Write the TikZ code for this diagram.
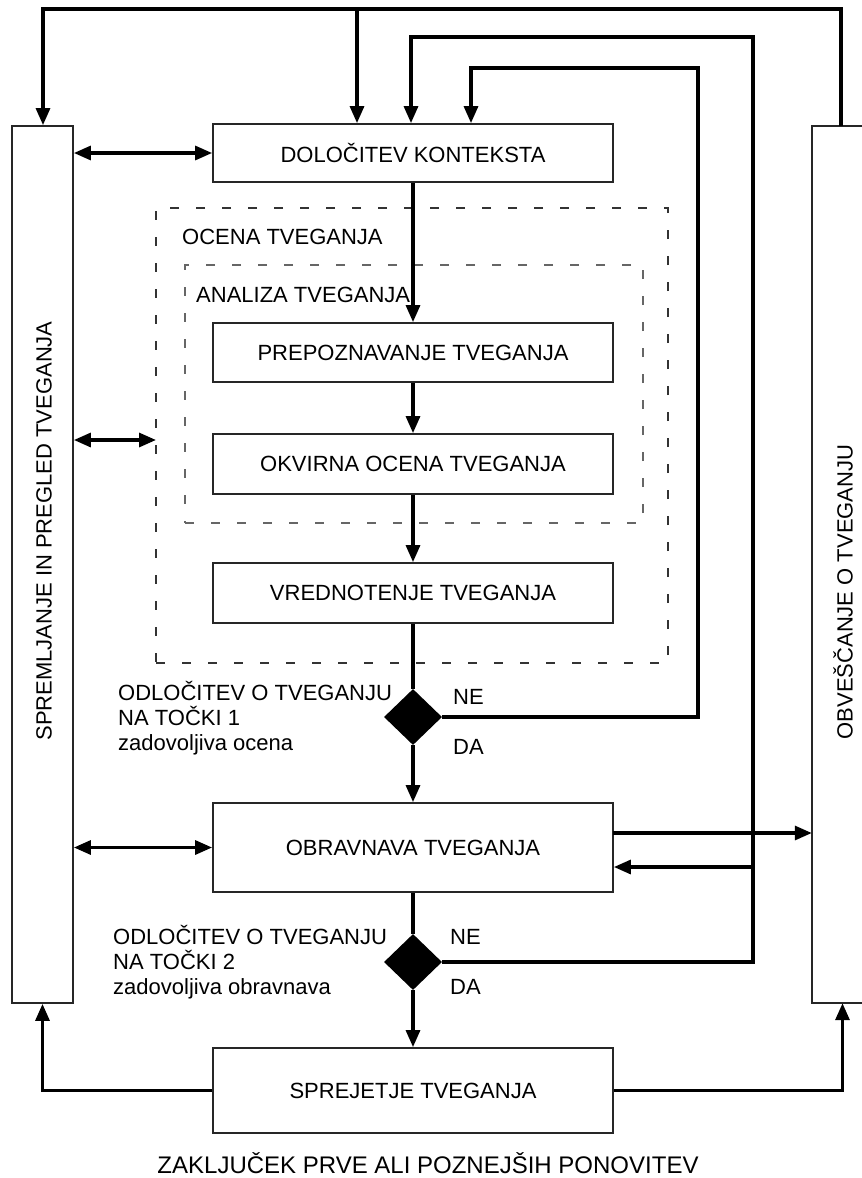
\documentclass[tikz,border=0pt]{standalone}
\usepackage{fontspec}
\setmainfont{Liberation Sans}
\usetikzlibrary{arrows.meta,shapes.geometric}
\begin{document}
\begin{tikzpicture}[x=1pt,y=-1pt,
  txt/.style={font=\fontsize{22}{25}\selectfont},
  box/.style={draw=black!85, line width=1.8pt, minimum width=400pt, inner sep=0pt, txt},
  side/.style={line width=1.8pt, draw=black!85},
  conn/.style={line width=3.2pt, black},
  arr/.style={conn, -{Triangle[length=17pt,width=14pt]}},
  darr/.style={conn, {Triangle[length=17pt,width=14pt]}-{Triangle[length=17pt,width=14pt]}},
  lbl/.style={txt, inner sep=0pt},
  dashbox/.style={line width=1.6pt, dash pattern=on 9pt off 17pt, inner sep=0pt},
  dec/.style={diamond, fill=black, minimum width=58pt, minimum height=56pt, inner sep=0pt}]
\useasboundingbox (0,0) rectangle (862,1178);

% side boxes
\node[side, draw, minimum width=61pt, minimum height=877pt, inner sep=0pt] (L) at (42.5,564.5) {};
\node[minimum width=61pt, minimum height=877pt, inner sep=0pt] (R) at (842.5,564.5) {};
\draw[side] (862,126) -- (812,126) -- (812,1003) -- (862,1003);
\node[lbl, rotate=90] (Lt) at (44,531) {SPREMLJANJE IN PREGLED TVEGANJA};
\node[lbl, rotate=90] (Rt) at (843,592) {OBVEŠČANJE O TVEGANJU};

% dashed groups
\node[dashbox, draw=black!80, minimum width=512pt, minimum height=455pt] (OC) at (412,435.5) {};
\node[dashbox, draw=black!60, minimum width=458pt, minimum height=258pt] (AN) at (414,394) {};
\node[lbl, anchor=west] (OCt) at (182,237) {OCENA TVEGANJA};
\node[lbl, anchor=west] (ANt) at (196,295) {ANALIZA TVEGANJA};

% main boxes
\node[box, minimum height=58pt] (K) at (413,153) {DOLOČITEV KONTEKSTA};
\node[box, minimum height=59pt] (P) at (413,352.5) {PREPOZNAVANJE TVEGANJA};
\node[box, minimum height=60pt] (O) at (413,464) {OKVIRNA OCENA TVEGANJA};
\node[box, minimum height=60pt] (V) at (413,593) {VREDNOTENJE TVEGANJA};
\node[box, minimum height=89pt] (T) at (413,847.5) {OBRAVNAVA TVEGANJA};
\node[box, minimum height=85pt] (S) at (413,1090.5) {SPREJETJE TVEGANJA};

% decisions
\node[dec] (D1) at (413,717) {};
\node[dec] (D2) at (413,962) {};
\node[lbl, anchor=west, align=left] (D1t) at (118,718) {ODLOČITEV O TVEGANJU\\NA TOČKI 1\\zadovoljiva ocena};
\node[lbl, anchor=west, align=left] (D2t) at (113,962) {ODLOČITEV O TVEGANJU\\NA TOČKI 2\\zadovoljiva obravnava};
\node[lbl, anchor=west] (ne1) at (453,697) {NE};
\node[lbl, anchor=west] (da1) at (453,747) {DA};
\node[lbl, anchor=west] (ne2) at (450,937) {NE};
\node[lbl, anchor=west] (da2) at (450,987) {DA};

\node[inner sep=0pt, font=\fontsize{24}{27}\selectfont] (Z) at (428,1163) {ZAKLJUČEK PRVE ALI POZNEJŠIH PONOVITEV};

% main flow
\draw[arr] (K.south) -- (P.north);
\draw[arr] (P.south) -- (O.north);
\draw[arr] (O.south) -- (V.north);
\draw[conn] (V.south) -- (D1.north);
\draw[arr] (D1.south) -- (T.north);
\draw[conn] (T.south) -- (D2.north);
\draw[arr] (D2.south) -- (S.north);

% loops
\coordinate (c3) at (698,68);
\coordinate (c3b) at (471,68);
\draw[arr] (D1.east) -| (c3) -- (c3b) -- (c3b |- K.north);
\coordinate (c2) at (753,37);
\coordinate (c2b) at (411,37);
\draw[arr] (D2.east) -| (c2) -- (c2b) -- (c2b |- K.north);
\coordinate (b2) at (753,867);
\draw[arr] (b2) -- (b2 -| T.east);

% top line
\coordinate (t1) at (841,9);
\coordinate (t0) at (43,9);
\coordinate (t2) at (357,9);
\draw[arr] (t1 |- R.north) -- (t1) -- (t0) -- (t0 |- L.north);
\draw[arr] (t2) -- (t2 |- K.north);

% side links
\draw[darr] (L.east |- K.west) -- (K.west);
\coordinate (oc) at (156,440);
\draw[darr] (L.east |- oc) -- (oc);
\draw[darr] (L.east |- T.west) -- (T.west);
\coordinate (to) at (613,833);
\draw[arr] (to) -- (to -| R.west);

% bottom
\draw[arr] (S.west) -| (L.south);
\draw[arr] (S.east) -| (R.south);
\end{tikzpicture}
\end{document}
